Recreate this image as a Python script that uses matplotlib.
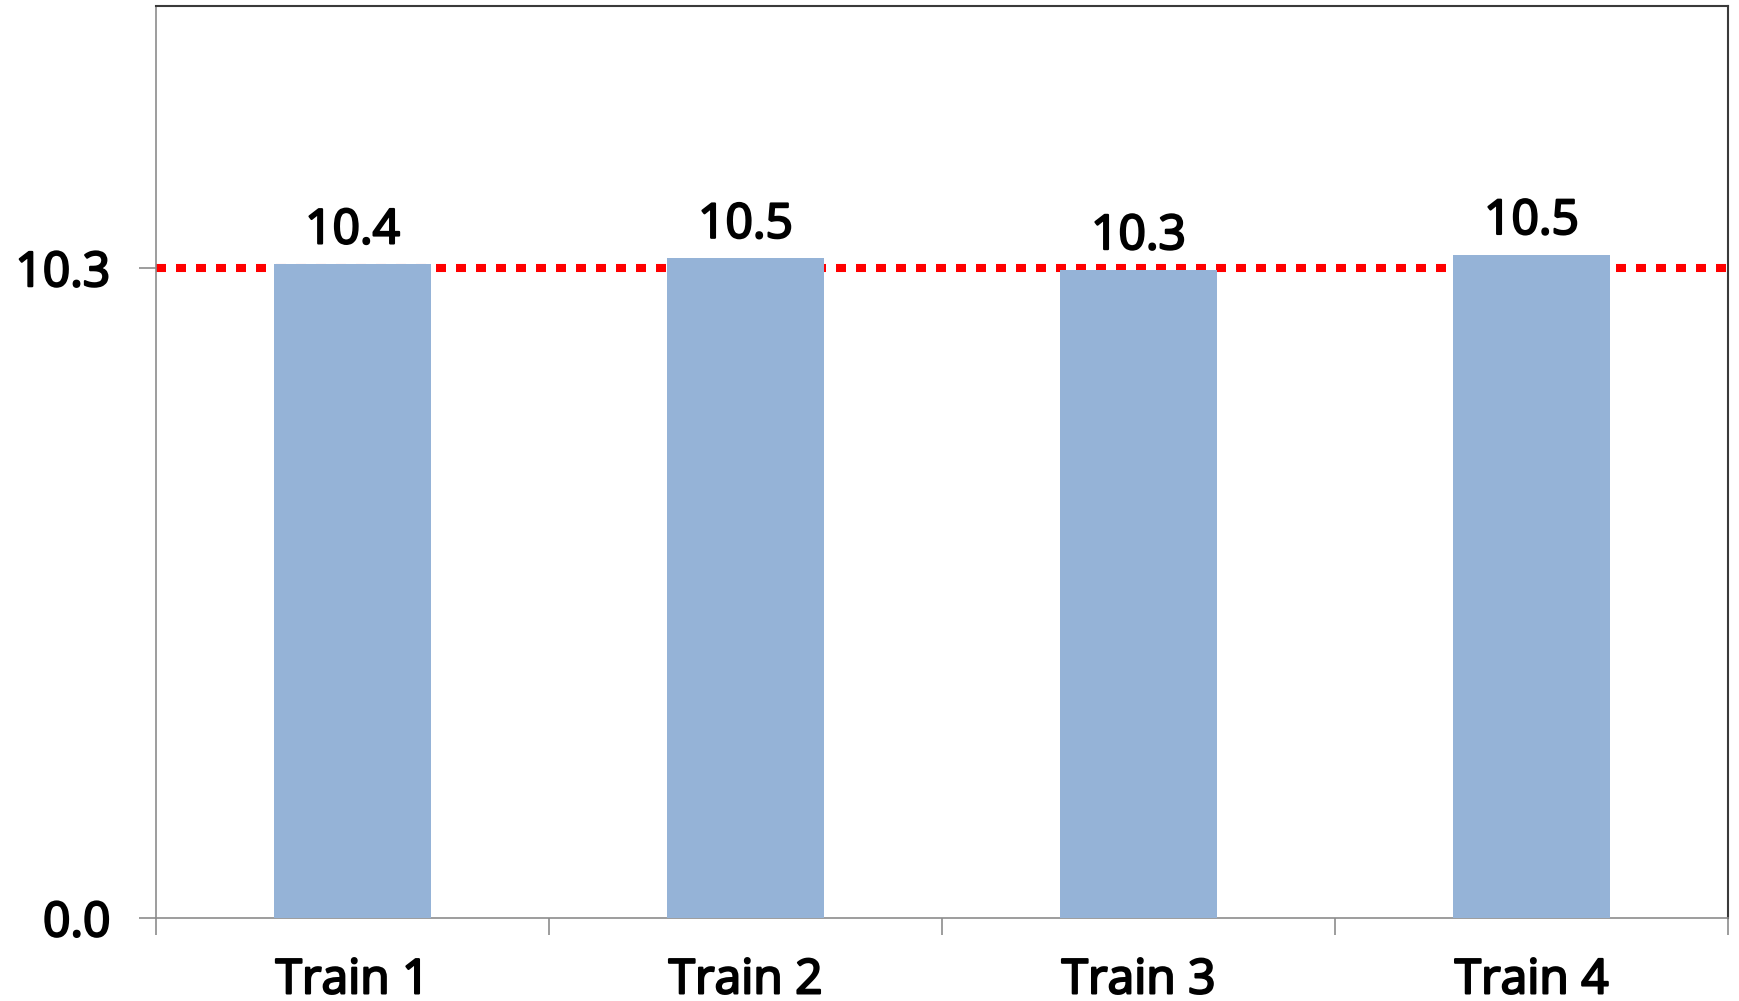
import matplotlib
matplotlib.use("Agg")
import matplotlib.pyplot as plt
import matplotlib.patheffects as pe

categories = ["Train 1", "Train 2", "Train 3", "Train 4"]
values = [10.36, 10.45, 10.27, 10.51]
value_labels = ["10.4", "10.5", "10.3", "10.5"]
reference_level = 10.3
ytick_values = [0.0, 10.3]
ytick_labels = ["0.0", "10.3"]

plt.rcParams['font.family'] = ['Open Sans', 'DejaVu Sans']
plt.rcParams['lines.scale_dashes'] = False

FS = 34.5
stroke = [pe.withStroke(linewidth=1.6, foreground="black")]

fig = plt.figure(figsize=(17.39, 10.01), dpi=100)
ax = fig.add_axes([156/1739, 83/1001, (1728-156)/1739, (918-6)/1001])

x = list(range(len(categories)))
bars = ax.bar(x, values, width=0.4, color="#95B3D7", zorder=3)

ax.axhline(reference_level, color="#FF0000", linewidth=5.8, dashes=(7.2, 7.2),
           dash_capstyle="butt", zorder=2)

for xi, v, lab in zip(x, values, value_labels):
    ax.annotate(lab, (xi, v), xytext=(0, 7), textcoords="offset points",
                ha="center", va="bottom", fontsize=FS, color="black",
                path_effects=stroke)

ax.set_xlim(-0.5, len(categories) - 0.5)
ax.set_ylim(0, 14.45)

ax.set_yticks(ytick_values)
ax.set_yticklabels(ytick_labels)
ax.set_xticks(x)
ax.set_xticklabels(categories)
ax.set_xticks([i - 0.5 for i in range(len(categories) + 1)], minor=True)

ax.tick_params(axis="x", which="major", length=0, pad=28, labelsize=FS)
ax.tick_params(axis="x", which="minor", length=12, width=1.2, color="#8C8C8C", direction="out")
ax.tick_params(axis="y", which="major", length=12, width=1.2, color="#8C8C8C", pad=21, labelsize=FS)
for lab in ax.get_xticklabels() + ax.get_yticklabels():
    lab.set_path_effects(stroke)

for s in ["left", "bottom"]:
    ax.spines[s].set_color("#8C8C8C")
    ax.spines[s].set_linewidth(1.2)
for s in ["top", "right"]:
    ax.spines[s].set_color("#3A3A3A")
    ax.spines[s].set_linewidth(1.5)

fig.savefig("out.png", dpi=100)
